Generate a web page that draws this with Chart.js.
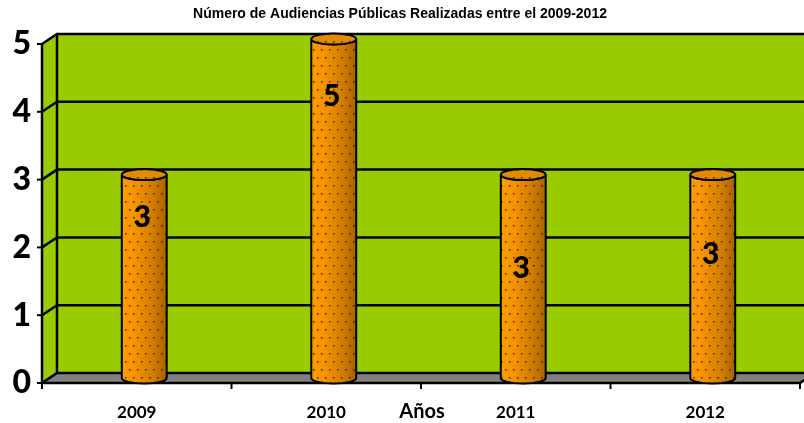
<!DOCTYPE html>
<html>
<head>
<meta charset="utf-8">
<script src="https://cdn.jsdelivr.net/npm/chart.js@4.4.0/dist/chart.umd.min.js"></script>
<style>
  html, body { margin: 0; padding: 0; background: #ffffff; }
  #wrap { width: 804px; height: 423px; }
</style>
</head>
<body>
<div id="wrap"><canvas id="audChart" width="804" height="423"></canvas></div>
<script>
// Audiencias públicas por año
const years = ['2009', '2010', '2011', '2012'];
const audiencias = [3, 5, 3, 3];
const yTicks = [0, 1, 2, 3, 4, 5];

// depth offset of the 3D box and where each value label sits on its cylinder (fraction from top)
const DEPTH_X = 15;
const DEPTH_Y = -10;
const labelAnchor = [0.21, 0.17, 0.46, 0.39];

const WALL = '#99cc00';
const FLOOR = '#808080';

function dotPattern(ctx) {
  const p = document.createElement('canvas');
  p.width = 16; p.height = 16;
  const c = p.getContext('2d');
  c.fillStyle = 'rgba(50,30,0,0.85)';
  [[1, 1], [9, 1], [5, 9], [13, 9]].forEach(([x, y]) => c.fillRect(x, y, 1.6, 1.6));
  return ctx.createPattern(p, 'repeat');
}

// back wall, side wall, floor, gridlines and axes
const boxPlugin = {
  id: 'box3d',
  beforeDatasetsDraw(chart) {
    const { ctx, chartArea: a, scales: { y } } = chart;
    const W = chart.width;
    ctx.save();
    // back wall
    ctx.fillStyle = WALL;
    ctx.fillRect(a.left + DEPTH_X, a.top + DEPTH_Y, W - a.left - DEPTH_X, a.bottom - a.top);
    // side wall
    ctx.beginPath();
    ctx.moveTo(a.left, a.top);
    ctx.lineTo(a.left + DEPTH_X, a.top + DEPTH_Y);
    ctx.lineTo(a.left + DEPTH_X, a.bottom + DEPTH_Y);
    ctx.lineTo(a.left, a.bottom);
    ctx.closePath();
    ctx.fill();
    // floor
    ctx.fillStyle = FLOOR;
    ctx.beginPath();
    ctx.moveTo(a.left, a.bottom);
    ctx.lineTo(a.right, a.bottom);
    ctx.lineTo(a.right + DEPTH_X, a.bottom + DEPTH_Y);
    ctx.lineTo(a.left + DEPTH_X, a.bottom + DEPTH_Y);
    ctx.closePath();
    ctx.fill();
    ctx.strokeStyle = '#000';
    ctx.lineWidth = 2;
    ctx.stroke();

    // gridlines on both walls
    ctx.lineWidth = 2.5;
    yTicks.forEach(v => {
      const py = y.getPixelForValue(v);
      ctx.beginPath();
      ctx.moveTo(a.left, py);
      ctx.lineTo(a.left + DEPTH_X, py + DEPTH_Y);
      ctx.lineTo(W, py + DEPTH_Y);
      ctx.stroke();
    });
    // wall edges
    ctx.beginPath();
    ctx.moveTo(a.left + DEPTH_X, a.top + DEPTH_Y);
    ctx.lineTo(a.left + DEPTH_X, a.bottom + DEPTH_Y);
    ctx.stroke();
    ctx.beginPath();
    ctx.moveTo(a.left, a.top);
    ctx.lineTo(a.left, a.bottom);
    ctx.lineTo(a.right, a.bottom);
    ctx.lineTo(a.right + DEPTH_X, a.bottom + DEPTH_Y);
    ctx.stroke();

    // tick marks
    ctx.lineWidth = 2;
    yTicks.forEach(v => {
      const py = y.getPixelForValue(v);
      ctx.beginPath();
      ctx.moveTo(a.left - 5, py);
      ctx.lineTo(a.left, py);
      ctx.stroke();
    });
    const step = (a.right - a.left) / years.length;
    for (let i = 0; i <= years.length; i++) {
      const px = a.left + step * i;
      ctx.beginPath();
      ctx.moveTo(px, a.bottom);
      ctx.lineTo(px, a.bottom + 6);
      ctx.stroke();
    }

    // axis title sits on the same line as the year labels
    ctx.fillStyle = '#000';
    ctx.font = 'bold 20px Lato';
    ctx.textAlign = 'center';
    ctx.textBaseline = 'middle';
    ctx.fillText('Años', (a.left + a.right) / 2 + 1, 412);
    ctx.restore();
  }
};

// cylinders drawn over the library's bar elements
const cylinderPlugin = {
  id: 'cylinders',
  afterDatasetsDraw(chart) {
    const { ctx } = chart;
    const meta = chart.getDatasetMeta(0);
    const pat = dotPattern(ctx);
    ctx.save();
    meta.data.forEach((bar, i) => {
      const cx = bar.x + DEPTH_X / 2;
      const top = bar.y + DEPTH_Y / 2;
      const base = bar.base + DEPTH_Y / 2;
      const rx = bar.width / 2;
      const ry = 5.5;

      const body = new Path2D();
      body.moveTo(cx - rx, top);
      body.lineTo(cx - rx, base);
      body.ellipse(cx, base, rx, ry, 0, Math.PI, 0, true);
      body.lineTo(cx + rx, top);
      body.ellipse(cx, top, rx, ry, 0, 0, Math.PI, false);
      body.closePath();

      const g = ctx.createLinearGradient(cx - rx, 0, cx + rx, 0);
      g.addColorStop(0, '#ff9d00');
      g.addColorStop(0.3, '#f59200');
      g.addColorStop(0.7, '#d07c00');
      g.addColorStop(1, '#a96200');
      ctx.fillStyle = g;
      ctx.fill(body);
      ctx.fillStyle = pat;
      ctx.fill(body);
      ctx.strokeStyle = '#000';
      ctx.lineWidth = 2;
      ctx.stroke(body);

      ctx.beginPath();
      ctx.ellipse(cx, top, rx, ry, 0, 0, Math.PI * 2);
      ctx.fillStyle = '#e38b00';
      ctx.fill();
      ctx.fillStyle = pat;
      ctx.fill();
      ctx.stroke();

      // value label
      ctx.fillStyle = '#000';
      ctx.font = '900 30px Lato';
      ctx.textAlign = 'center';
      ctx.textBaseline = 'middle';
      const ly = top + (base - top) * labelAnchor[i];
      ctx.fillText(String(audiencias[i]), cx - 2, ly);
    });
    ctx.restore();
  }
};

new Chart(document.getElementById('audChart').getContext('2d'), {
  type: 'bar',
  data: {
    labels: years,
    datasets: [{
      data: audiencias,
      backgroundColor: 'rgba(0,0,0,0)',
      borderWidth: 0,
      barPercentage: 0.237,
      categoryPercentage: 1
    }]
  },
  plugins: [boxPlugin, cylinderPlugin],
  options: {
    responsive: false,
    animation: false,
    layout: { padding: { right: 4, left: 0 } },
    plugins: {
      legend: { display: false },
      tooltip: { enabled: false },
      title: {
        display: true,
        text: 'Número de Audiencias Públicas Realizadas entre el 2009-2012',
        color: '#000',
        font: { family: 'Liberation Sans', size: 14, weight: 'bold' },
        padding: { top: 6, bottom: 21.2 }
      }
    },
    scales: {
      x: {
        grid: { display: false, drawTicks: false },
        border: { display: false },
        ticks: {
          color: '#000',
          font: { family: 'Lato', size: 17, weight: 'bold' },
          padding: 19
        },
        afterFit(scale) { scale.height = 40; }
      },
      y: {
        min: 0,
        max: 5,
        grid: { display: false, drawTicks: false },
        border: { display: false },
        ticks: {
          stepSize: 1,
          color: '#000',
          font: { family: 'Lato', size: 32, weight: '900' },
          padding: 11
        },
        afterFit(scale) { scale.width = 42; }
      }
    }
  }
});
</script>
</body>
</html>
